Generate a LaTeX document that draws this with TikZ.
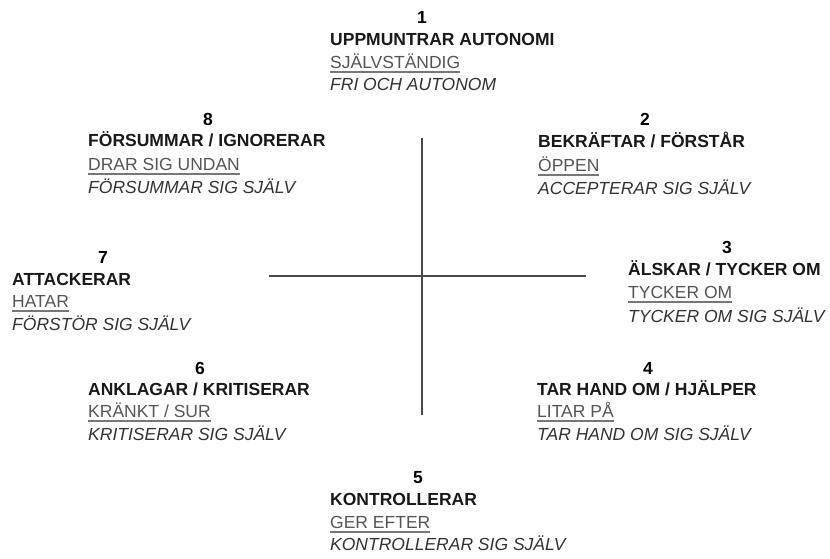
\documentclass[tikz,border=0pt]{standalone}
\usepackage{fontspec}
\setmainfont{Liberation Sans}
\usepackage{tikz}
\usetikzlibrary{positioning}
\definecolor{axisgray}{HTML}{4A4A4A}
\definecolor{undergray}{HTML}{555555}
\definecolor{italgray}{HTML}{333333}
\newcommand{\ultext}[1]{\setbox0\hbox{#1}\rlap{\color{undergray!80}\rule[-4.5pt]{\wd0}{1.5pt}}\box0}

\begin{document}
\begin{tikzpicture}[
  x=1pt, y=-1pt,
  num/.style={anchor=base, inner sep=0pt, font=\fontsize{17.5}{20}\selectfont\bfseries},
  head/.style={anchor=base west, inner sep=0pt, font=\fontsize{17.5}{20}\selectfont\bfseries, text=black!90},
  under/.style={anchor=base west, inner sep=0pt, font=\fontsize{17.5}{20}\selectfont, text=undergray},
  ital/.style={anchor=base west, inner sep=0pt, font=\fontsize{17.5}{20}\selectfont\itshape, text=italgray},
  axis/.style={draw=axisgray, line width=1.4pt},
]
\useasboundingbox (0,0) rectangle (830,558);

% axes
\coordinate (top) at (422,138);
\coordinate (bot) at (422,415);
\coordinate (lft) at (269,276);
\coordinate (rgt) at (586,276);
\draw[axis] (top) -- (bot);
\draw[axis] (lft) -- (rgt);

% 1
\node[num] (n1) at (422,23) {1};
\node[head] (h1) at (330,45) {UPPMUNTRAR AUTONOMI};
\node[under] (u1) at (330,68) {\ultext{SJÄLVSTÄNDIG}};
\node[ital] (i1) at (330,90) {FRI OCH AUTONOM};

% 2
\node[num] (n2) at (645,125) {2};
\node[head] (h2) at (538,147) {BEKRÄFTAR / FÖRSTÅR};
\node[under] (u2) at (538,171) {\ultext{ÖPPEN}};
\node[ital] (i2) at (538,194) {ACCEPTERAR SIG SJÄLV};

% 3
\node[num] (n3) at (727,253) {3};
\node[head] (h3) at (628,275) {ÄLSKAR / TYCKER OM};
\node[under] (u3) at (628,298) {\ultext{TYCKER OM}};
\node[ital] (i3) at (628,322) {TYCKER OM SIG SJÄLV};

% 4
\node[num] (n4) at (648,374) {4};
\node[head] (h4) at (537,395) {TAR HAND OM / HJÄLPER};
\node[under] (u4) at (537,417) {\ultext{LITAR PÅ}};
\node[ital] (i4) at (537,440) {TAR HAND OM SIG SJÄLV};

% 5
\node[num] (n5) at (418,483) {5};
\node[head] (h5) at (330,505) {KONTROLLERAR};
\node[under] (u5) at (330,528) {\ultext{GER EFTER}};
\node[ital] (i5) at (330,550) {KONTROLLERAR SIG SJÄLV};

% 6
\node[num] (n6) at (200,374) {6};
\node[head] (h6) at (88,395) {ANKLAGAR / KRITISERAR};
\node[under] (u6) at (88,417) {\ultext{KRÄNKT / SUR}};
\node[ital] (i6) at (88,440) {KRITISERAR SIG SJÄLV};

% 7
\node[num] (n7) at (103,263) {7};
\node[head] (h7) at (12,285) {ATTACKERAR};
\node[under] (u7) at (12,307) {\ultext{HATAR}};
\node[ital] (i7) at (12,330) {FÖRSTÖR SIG SJÄLV};

% 8
\node[num] (n8) at (208,125) {8};
\node[head] (h8) at (88,146) {FÖRSUMMAR / IGNORERAR};
\node[under] (u8) at (88,170) {\ultext{DRAR SIG UNDAN}};
\node[ital] (i8) at (88,193) {FÖRSUMMAR SIG SJÄLV};
\end{tikzpicture}
\end{document}
